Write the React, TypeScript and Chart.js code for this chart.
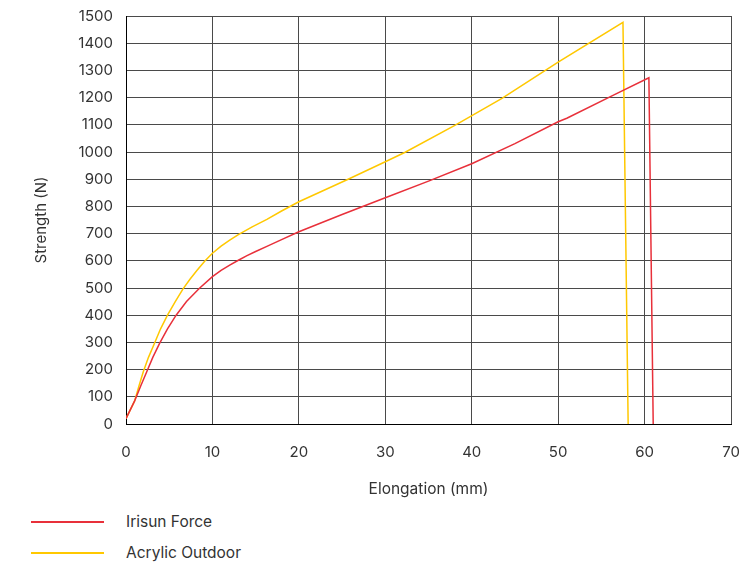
import React, { useEffect, useRef } from "react";
import { Chart, registerables } from "chart.js";

Chart.register(...registerables);

const irisunX = [0, 1.0, 1.7, 2.4, 3.1, 3.9, 4.8, 5.8, 7.0, 8.5, 10, 11, 12, 13, 14, 15, 16.3, 18, 20, 25, 30, 35, 40, 45, 50, 51, 56.4, 60.5, 61.0];
const irisunY = [20, 85, 140, 192, 245, 297, 350, 400, 450, 499, 542, 565, 584, 602, 619, 634, 653, 678, 707, 770, 832, 893, 957, 1031, 1111, 1124, 1209, 1273, 0];

const acrylicX = [0, 1.0, 1.5, 2.0, 2.6, 3.3, 4.0, 4.8, 5.7, 6.6, 7.4, 8.2, 9.1, 10, 11, 12, 13, 14.6, 16.3, 18, 20, 25.7, 30, 32.3, 38.1, 43.5, 50, 57.5, 58.1];
const acrylicY = [20, 85, 140, 192, 245, 297, 350, 400, 450, 497, 532, 564, 598, 628, 654, 676, 696, 725, 752, 783, 817, 900, 964, 999, 1099, 1197, 1330, 1477, 0];

const seriesNames = ["Irisun Force", "Acrylic Outdoor"];
const seriesColors = ["#e8303a", "#ffc800"];

const xTitle = "Elongation (mm)";
const yTitle = "Strength (N)";

const FONT = "Inter, 'DejaVu Sans', sans-serif";
const TEXT = "#333333";
const GRID = "#4a4a4a";

function toPoints(xs: number[], ys: number[]) {
  return xs.map((x, i) => ({ x, y: ys[i] }));
}

export default function App() {
  const ref = useRef<HTMLCanvasElement | null>(null);

  useEffect(() => {
    if (!ref.current) return;
    const chart = new Chart(ref.current, {
      type: "line",
      data: {
        datasets: [
          {
            label: seriesNames[0],
            data: toPoints(irisunX, irisunY),
            borderColor: seriesColors[0],
            backgroundColor: seriesColors[0],
            borderWidth: 1.5,
            pointRadius: 0,
            tension: 0,
          },
          {
            label: seriesNames[1],
            data: toPoints(acrylicX, acrylicY),
            borderColor: seriesColors[1],
            backgroundColor: seriesColors[1],
            borderWidth: 1.5,
            pointRadius: 0,
            tension: 0,
          },
        ],
      },
      options: {
        animation: false,
        responsive: false,
        maintainAspectRatio: false,
        layout: { padding: { left: 0, right: 11, top: 16, bottom: 0 } },
        plugins: {
          legend: { display: false },
          tooltip: { enabled: false },
        },
        scales: {
          x: {
            type: "linear",
            min: 0,
            max: 70,
            ticks: {
              stepSize: 10,
              color: TEXT,
              font: { family: FONT, size: 15 },
              padding: 0,
              callback: (v: any) => String(v),
            },
            grid: { color: GRID, drawTicks: true, tickLength: 19, tickColor: "rgba(0,0,0,0)", lineWidth: 1 },
            border: { color: "#000000", width: 1 },
            title: {
              display: true,
              text: xTitle,
              color: TEXT,
              font: { family: FONT, size: 15.5 },
              padding: { top: 4, bottom: 1 },
            },
            afterFit: (scale: any) => {
              scale.height = 76;
            },
          },
          y: {
            type: "linear",
            min: 0,
            max: 1500,
            ticks: {
              stepSize: 100,
              color: TEXT,
              font: { family: FONT, size: 15 },
              padding: 0,
              callback: (v: any) => String(v),
            },
            grid: { color: GRID, drawTicks: true, tickLength: 13, tickColor: "rgba(0,0,0,0)", lineWidth: 1 },
            border: { color: "#000000", width: 1 },
            title: {
              display: true,
              text: yTitle,
              color: TEXT,
              font: { family: FONT, size: 15 },
              padding: { top: 32, bottom: 4 },
            },
            afterFit: (scale: any) => {
              scale.width = 126;
            },
          },
        },
      },
    });
    return () => chart.destroy();
  }, []);

  const legendItem = (i: number, top: number) => (
    <div key={i} style={{ position: "absolute", left: 0, top, width: 300, height: 20 }}>
      <div
        style={{
          position: "absolute",
          left: 31,
          top: 9,
          width: 73,
          height: 1.5,
          background: seriesColors[i],
        }}
      />
      <div
        style={{
          position: "absolute",
          left: 126,
          top: 0,
          lineHeight: "20px",
          fontFamily: FONT,
          fontSize: 15.5,
          color: TEXT,
          whiteSpace: "nowrap",
        }}
      >
        {seriesNames[i]}
      </div>
    </div>
  );

  return (
    <div style={{ position: "absolute", left: 0, top: 0, width: 742, height: 565, background: "#fff", overflow: "hidden" }}>
      <canvas ref={ref} width={742} height={500} style={{ position: "absolute", left: 0, top: 0, width: 742, height: 500 }} />
      {legendItem(0, 512)}
      {legendItem(1, 543)}
    </div>
  );
}
